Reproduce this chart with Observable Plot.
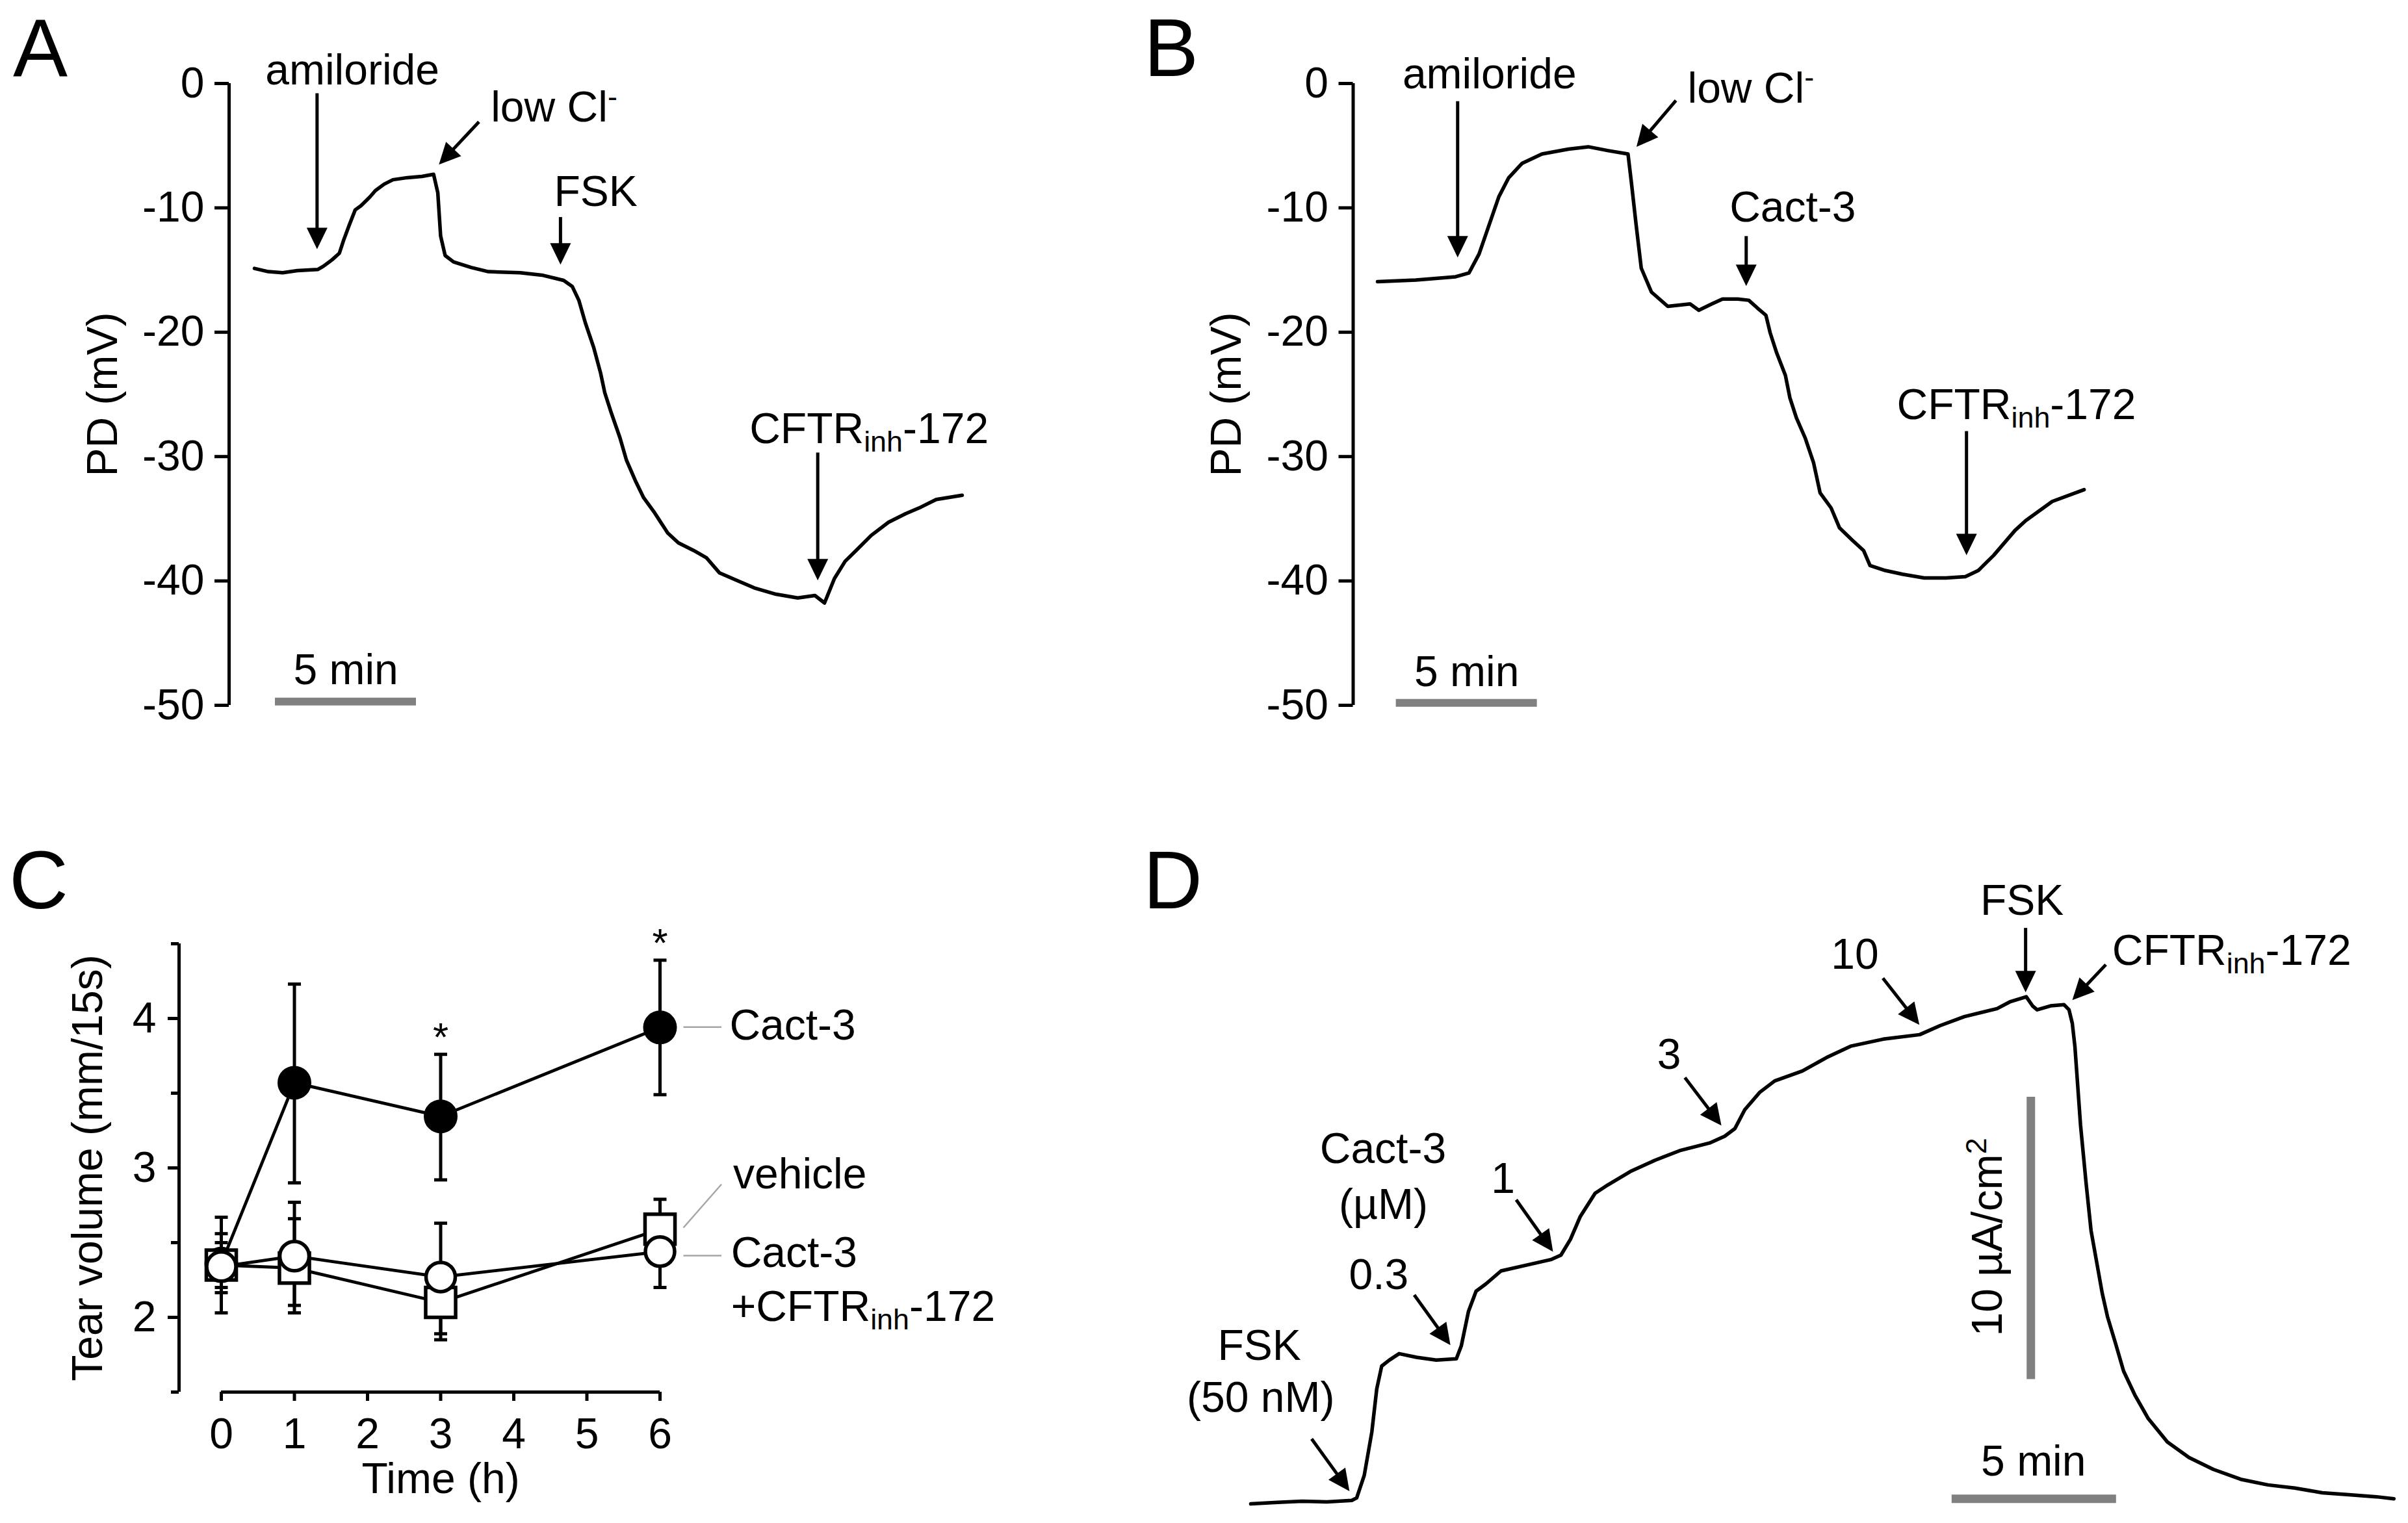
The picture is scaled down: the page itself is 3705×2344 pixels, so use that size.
<!DOCTYPE html>
<html>
<head>
<meta charset="utf-8">
<script src="https://cdn.jsdelivr.net/npm/d3@7"></script>
<script src="https://cdn.jsdelivr.net/npm/@observablehq/plot@0.6"></script>
<style>
  html, body { margin: 0; padding: 0; background: #fff; }
  #fig { position: relative; width: 3705px; height: 2344px; overflow: hidden; background: #fff;
         font-family: "Liberation Sans", Arial, Helvetica, sans-serif; }
  .letter { position: absolute; font-size: 126px; line-height: 1; color: #000; }
</style>
</head>
<body>
<div id="fig"></div>
<script>
// ---------------- DATA ----------------
// Panel A: transepithelial PD trace (time in min, PD in mV)
const aTime = [0, 0.49, 1.0, 1.52, 2.24, 2.44, 2.75, 3.01, 3.16, 3.36, 3.57, 3.78, 4.09, 4.29, 4.60, 4.91, 5.42, 5.94, 6.35, 6.50, 6.60, 6.76, 7.06, 7.68, 8.29, 9.42, 10.19, 10.96, 11.27, 11.50, 11.73, 12.03, 12.27, 12.42, 12.65, 12.96, 13.19, 13.50, 13.80, 14.19, 14.65, 15.03, 15.57, 16.03, 16.49, 17.10, 17.72, 18.49, 19.26, 19.87, 20.21, 20.56, 20.94, 21.33, 21.87, 22.48, 23.09, 23.63, 24.17, 24.63, 25.09];
const aPD = [-14.87, -15.13, -15.22, -15.05, -14.96, -14.70, -14.18, -13.65, -12.61, -11.39, -10.17, -9.82, -9.13, -8.61, -8.09, -7.74, -7.57, -7.47, -7.30, -8.78, -12.26, -13.83, -14.35, -14.79, -15.13, -15.22, -15.41, -15.83, -16.33, -17.43, -19.24, -21.25, -23.27, -24.87, -26.48, -28.50, -30.30, -31.92, -33.32, -34.53, -36.14, -36.94, -37.55, -38.15, -39.36, -39.96, -40.56, -41.07, -41.37, -41.17, -41.77, -39.81, -38.42, -37.55, -36.33, -35.28, -34.59, -34.06, -33.45, -33.28, -33.11];
const aLabels = ["amiloride", "low Cl^{-}", "FSK", "CFTR_{inh}-172"];
const aLabelT = [3.47, 8.38, 10.62, 17.55];
const aLabelV = [-0.1, -3.08, -9.86, -28.93];
const aLabelAnchor = ["middle", "start", "start", "start"];
const aArrowFrom = [[2.22, -0.78], [7.96, -3.08], [10.85, -10.74], [19.97, -29.68]];
const aArrowTo = [[2.22, -13.32], [6.54, -6.52], [10.85, -14.57], [19.97, -39.96]];
const aScaleBar = {t1: 0.737, t2: 5.737, v: -49.7, label: "5 min", labelT: 3.24, labelV: -48.3};

// Panel B
const bTime = [0, 1.36, 2.77, 3.24, 3.60, 3.95, 4.30, 4.65, 5.12, 5.83, 6.77, 7.47, 8.18, 8.88, 9.00, 9.17, 9.35, 9.71, 10.29, 11.08, 11.39, 11.85, 12.23, 12.77, 13.16, 13.46, 13.77, 13.92, 14.15, 14.46, 14.62, 14.85, 15.16, 15.46, 15.69, 16.08, 16.38, 16.84, 17.23, 17.46, 18.00, 18.61, 19.38, 20.15, 20.84, 21.30, 21.84, 22.60, 22.98, 23.92, 25.05];
const bPD = [-15.93, -15.81, -15.54, -15.24, -13.71, -11.41, -9.11, -7.58, -6.43, -5.67, -5.28, -5.09, -5.40, -5.67, -7.96, -11.41, -14.85, -16.77, -17.92, -17.73, -18.23, -17.73, -17.33, -17.33, -17.43, -18.04, -18.64, -20.05, -21.66, -23.47, -25.28, -26.89, -28.50, -30.51, -32.92, -34.13, -35.74, -36.74, -37.55, -38.76, -39.16, -39.46, -39.76, -39.76, -39.65, -39.16, -37.95, -35.94, -35.15, -33.61, -32.66];
const bLabels = ["amiloride", "low Cl^{-}", "Cact-3", "CFTR_{inh}-172"];
const bLabelT = [3.97, 10.99, 14.72, 18.41];
const bLabelV = [-0.40, -1.55, -11.12, -27.0];
const bLabelAnchor = ["middle", "start", "middle", "start"];
const bArrowFrom = [[2.84, -1.43], [10.58, -1.36], [13.07, -12.27], [20.88, -27.95]];
const bArrowTo = [[2.84, -13.99], [9.18, -5.10], [13.07, -16.29], [20.88, -37.93]];
const bScaleBar = {t1: 0.66, t2: 5.66, v: -49.8, label: "5 min", labelT: 3.16, labelV: -48.45};

// shared PD axis ticks
const pdTicks = [0, -10, -20, -30, -40, -50];

// Panel C: tear volume (mm/15s) vs time (h)
const cTimes = [0, 1, 3, 6];
const cCact3 = [2.36, 3.57, 3.345, 3.94];
const cCact3Lo = [2.03, 2.90, 2.92, 3.49];
const cCact3Hi = [2.67, 4.23, 3.76, 4.39];
const cVehicle = [2.35, 2.33, 2.10, 2.59];
const cVehicleLo = [2.165, 2.03, 1.85, 2.40];
const cVehicleHi = [2.56, 2.66, 2.33, 2.79];
const cInhib = [2.34, 2.41, 2.27, 2.44];
const cInhibLo = [2.20, 2.08, 1.89, 2.20];
const cInhibHi = [2.50, 2.77, 2.63, 2.66];
const cXTicks = [0, 1, 2, 3, 4, 5, 6];
const cYTicks = [2, 3, 4];
const cYMinorTicks = [1.5, 2.5, 3.5, 4.5];
const cStarT = [3, 6];
const cStarV = [3.785, 4.417];
const cLabels = ["Cact-3", "vehicle", "Cact-3", "+CFTR_{inh}-172"];
const cLabelT = [6.95, 7.0, 6.97, 6.97];
const cLabelV = [3.859, 2.863, 2.339, 1.975];
const cLeaderFrom = [[6.32, 3.942], [6.32, 2.60], [6.32, 2.413]];
const cLeaderTo = [[6.84, 3.942], [6.84, 2.89], [6.84, 2.413]];

// Panel D: short-circuit current (µA/cm², relative) vs time (min)
const dTime = [0, 0.81, 1.56, 2.31, 3.07, 3.22, 3.45, 3.68, 3.83, 3.98, 4.21, 4.51, 5.04, 5.64, 6.25, 6.40, 6.62, 6.85, 7.15, 7.61, 8.36, 9.12, 9.43, 9.72, 10.02, 10.47, 10.86, 11.54, 12.29, 13.04, 13.95, 14.41, 14.72, 15.02, 15.47, 15.93, 16.77, 17.51, 18.24, 19.23, 20.34, 20.96, 21.70, 22.69, 23.08, 23.58, 23.77, 23.91, 24.32, 24.73, 24.88, 24.98, 25.06, 25.23, 25.40, 25.55, 25.72, 25.89, 26.05, 26.30, 26.54, 26.88, 27.29, 27.87, 28.53, 29.27, 30.10, 30.93, 31.75, 32.58, 33.40, 34.23, 34.76];
const dIsc = [0, 0.05, 0.09, 0.07, 0.12, 0.21, 1.01, 2.54, 4.07, 4.88, 5.09, 5.32, 5.19, 5.09, 5.14, 5.59, 6.82, 7.53, 7.79, 8.25, 8.45, 8.65, 8.81, 9.37, 10.18, 11.0, 11.3, 11.77, 12.17, 12.51, 12.78, 13.02, 13.29, 13.96, 14.57, 14.98, 15.33, 15.81, 16.21, 16.46, 16.62, 16.94, 17.26, 17.54, 17.78, 17.96, 17.64, 17.50, 17.64, 17.68, 17.50, 17.02, 16.19, 13.42, 11.35, 9.68, 8.57, 7.46, 6.63, 5.66, 4.70, 3.86, 3.02, 2.19, 1.64, 1.22, 0.87, 0.67, 0.56, 0.39, 0.32, 0.25, 0.18];
const dLabels = ["FSK", "(50 nM)", "Cact-3", "(µM)", "0.3", "1", "3", "10", "FSK", "CFTR_{inh}-172"];
const dLabelT = [0.26, 0.30, 4.02, 4.03, 3.89, 7.67, 12.72, 18.37, 23.45, 26.19];
const dLabelV = [5.10, 3.25, 12.06, 10.1, 7.60, 11.02, 15.41, 18.95, 20.87, 19.1];
const dLabelAnchor = ["middle", "middle", "middle", "middle", "middle", "middle", "middle", "middle", "middle", "start"];
const dArrowFrom = [[1.85, 2.30], [4.97, 7.40], [8.07, 10.77], [13.2, 15.1], [19.22, 18.62], [23.56, 20.4], [26.0, 19.1]];
const dArrowTo = [[3.0, 0.45], [6.07, 5.62], [9.19, 8.93], [14.31, 13.4], [20.33, 16.97], [23.56, 18.12], [24.98, 17.84]];
const dVBar = {t: 23.72, i1: 4.41, i2: 14.41, label: "10 µA/cm^{2}", labelT: 22.42, labelI: 9.45};
const dHBar = {t1: 21.32, t2: 26.32, i: 0.18, label: "5 min", labelT: 23.8, labelI: 1.0};

const panelLetters = ["A", "B", "C", "D"];

// ---------------- HELPERS ----------------
const FS = 66;
const FONT = '"Liberation Sans", Arial, Helvetica, sans-serif';
const GRAY = "#808080";
const LW = 5.5;      // trace line width
const AXW = 5;       // axis line width
const fig = document.getElementById("fig");

const headSym = {draw(ctx) { ctx.moveTo(0, 0); ctx.lineTo(-16, -33); ctx.lineTo(16, -33); ctx.closePath(); }};
const capSym = {draw(ctx) { ctx.moveTo(-10, 0); ctx.lineTo(10, 0); }};

function arrowMarks(from, to, kx, ky) {
  const rows = from.map((f, i) => {
    const [x1, y1] = f, [x2, y2] = to[i];
    const dx = (x2 - x1) * kx, dy = -(y2 - y1) * ky;
    const L = Math.hypot(dx, dy), ux = dx / L, uy = dy / L;
    return {x1, y1, x2, y2, xe: x2 - ux * 18 / kx, ye: y2 + uy * 18 / ky, ang: Math.atan2(-ux, uy) * 180 / Math.PI};
  });
  return [
    Plot.link(rows, {x1: "x1", y1: "y1", x2: "xe", y2: "ye", stroke: "black", strokeWidth: 5}),
    Plot.dot(rows, {x: "x2", y: "y2", symbol: headSym, rotate: "ang", fill: "black", stroke: "none", r: 10})
  ];
}

function labelMarks(labels, ts, vs, anchors) {
  const rows = labels.map((l, i) => ({l, t: ts[i], v: vs[i], a: anchors ? anchors[i] : "start"}));
  return ["start", "middle", "end"].map(a => Plot.text(rows.filter(r => r.a === a), {
    x: "t", y: "v", text: "l", textAnchor: a, lineAnchor: "bottom", fontSize: FS, fill: "black"
  }));
}

function richText(svg) {
  const ns = "http://www.w3.org/2000/svg";
  svg.querySelectorAll("text").forEach(el => {
    if (el.querySelector("tspan")) return;
    const s = el.textContent;
    if (!/[_^]\{/.test(s)) return;
    el.textContent = "";
    const re = /([_^])\{([^}]*)\}/g;
    let last = 0, m, pending = 0;
    const add = (str, attrs) => {
      const ts = document.createElementNS(ns, "tspan");
      ts.textContent = str;
      for (const k in attrs) ts.setAttribute(k, attrs[k]);
      el.appendChild(ts);
    };
    while ((m = re.exec(s))) {
      if (m.index > last) { add(s.slice(last, m.index), pending ? {dy: pending} : {}); pending = 0; }
      const shift = m[1] === "_" ? 0.2 * FS : -0.36 * FS;
      add(m[2], {dy: shift + pending, "font-size": 0.68 * FS});
      pending = -shift;
      last = re.lastIndex;
    }
    if (last < s.length) add(s.slice(last), pending ? {dy: pending} : {});
  });
}

function place(svg, left, top) {
  svg.style.position = "absolute";
  svg.style.left = left + "px";
  svg.style.top = top + "px";
  svg.style.maxWidth = "none";
  fig.appendChild(svg);
  richText(svg);
}

const baseStyle = {fontFamily: FONT, fontSize: FS + "px", background: "transparent", color: "black"};

// ---------------- PANELS A & B (PD traces) ----------------
function pdPanel(cfg, time, pd, labels, lt, lv, la, from, to, bar) {
  const {ox, oy, W, H, axisPx, t0Px, kx, y0Px, ky} = cfg;
  const xDom = [(axisPx - t0Px) / kx, (ox + W - t0Px) / kx];
  const marginTop = y0Px - oy;
  const marginBottom = H - (y0Px + 50 * ky - oy);
  const trace = time.map((t, i) => ({t, v: pd[i]}));
  const svg = Plot.plot({
    width: W, height: H,
    marginLeft: axisPx - ox, marginRight: 0, marginTop, marginBottom,
    style: baseStyle,
    x: {domain: xDom, axis: null},
    y: {domain: [-50, 0]},
    marks: [
      Plot.ruleX([xDom[0]], {y1: -50, y2: 0, stroke: "black", strokeWidth: AXW}),
      Plot.axisY({ticks: pdTicks, tickSize: 22, tickPadding: 16, tickFormat: d => String(d), fontSize: FS, strokeWidth: AXW, label: null}),
      Plot.text(["PD (mV)"], {text: d => d, frameAnchor: "left", dx: -194, rotate: -90, textAnchor: "middle", lineAnchor: "middle", fontSize: FS}),
      Plot.line(trace, {x: "t", y: "v", stroke: "black", strokeWidth: LW, strokeLinejoin: "round"}),
      ...arrowMarks(from, to, kx, ky),
      ...labelMarks(labels, lt, lv, la),
      Plot.ruleY([bar.v], {x1: bar.t1, x2: bar.t2, stroke: GRAY, strokeWidth: 12}),
      Plot.text([bar.label], {text: d => d, x: bar.labelT, y: bar.labelV, textAnchor: "middle", lineAnchor: "bottom", fontSize: FS})
    ]
  });
  place(svg, ox, oy);
}

pdPanel({ox: 0, oy: 0, W: 1760, H: 1180, axisPx: 352, t0Px: 391, kx: 43.4, y0Px: 128, ky: 19.14},
  aTime, aPD, aLabels, aLabelT, aLabelV, aLabelAnchor, aArrowFrom, aArrowTo, aScaleBar);
pdPanel({ox: 1760, oy: 0, W: 1945, H: 1180, axisPx: 2081.5, t0Px: 2119, kx: 43.4, y0Px: 128, ky: 19.14},
  bTime, bPD, bLabels, bLabelT, bLabelV, bLabelAnchor, bArrowFrom, bArrowTo, bScaleBar);

// ---------------- PANEL C ----------------
(function () {
  const ox = 0, oy = 1180, W = 1760, H = 1164;
  const axisPx = 275, t0Px = 340, kx = 112.5, yTop = 1452, yBot = 2142;
  const xDom = [(axisPx - t0Px) / kx, (ox + W - t0Px) / kx];
  const mk = (name, m, lo, hi) => cTimes.map((t, i) => ({name, t, m: m[i], lo: lo[i], hi: hi[i]}));
  const cact = mk("Cact-3", cCact3, cCact3Lo, cCact3Hi);
  const veh = mk("vehicle", cVehicle, cVehicleLo, cVehicleHi);
  const inh = mk("Cact-3 + CFTRinh-172", cInhib, cInhibLo, cInhibHi);
  const all = [...cact, ...veh, ...inh];
  const caps = all.flatMap(d => [{t: d.t, v: d.lo}, {t: d.t, v: d.hi}]);
  const leaders = cLeaderFrom.map((f, i) => ({x1: f[0], y1: f[1], x2: cLeaderTo[i][0], y2: cLeaderTo[i][1]}));
  const stars = cStarT.map((t, i) => ({t, v: cStarV[i]}));
  const svg = Plot.plot({
    width: W, height: H,
    marginLeft: axisPx - ox, marginRight: 0, marginTop: yTop - oy, marginBottom: oy + H - yBot,
    style: baseStyle,
    x: {domain: xDom},
    y: {domain: [1.5, 4.5]},
    marks: [
      Plot.ruleX([xDom[0]], {y1: 1.5, y2: 4.5, stroke: "black", strokeWidth: AXW}),
      Plot.axisY({ticks: cYTicks, tickSize: 17, tickPadding: 18, tickFormat: d => String(d), fontSize: FS, strokeWidth: AXW, label: null}),
      Plot.axisY({ticks: cYMinorTicks, tickSize: 12, tickFormat: () => null, strokeWidth: AXW, label: null}),
      Plot.ruleY([1.5], {x1: 0, x2: 6, stroke: "black", strokeWidth: AXW}),
      Plot.axisX({ticks: cXTicks, tickSize: 14, tickPadding: 26, tickFormat: d => String(d), fontSize: FS, strokeWidth: AXW, label: null}),
      Plot.text(["Tear volume (mm/15s)"], {text: d => d, frameAnchor: "left", dx: -140, rotate: -90, textAnchor: "middle", lineAnchor: "middle", fontSize: FS}),
      Plot.text(["Time (h)"], {text: d => d, x: 3, frameAnchor: "bottom", dy: 155, textAnchor: "middle", lineAnchor: "bottom", fontSize: FS}),
      Plot.ruleX(all, {x: "t", y1: "lo", y2: "hi", stroke: "black", strokeWidth: 5}),
      Plot.dot(caps, {x: "t", y: "v", symbol: capSym, stroke: "black", strokeWidth: 5, fill: "none", r: 5}),
      Plot.line(cact, {x: "t", y: "m", stroke: "black", strokeWidth: 4.8}),
      Plot.line(veh, {x: "t", y: "m", stroke: "black", strokeWidth: 4.8}),
      Plot.line(inh, {x: "t", y: "m", stroke: "black", strokeWidth: 4.8}),
      Plot.dot(cact, {x: "t", y: "m", symbol: "circle", r: 25, fill: "black", stroke: "black", strokeWidth: 2}),
      Plot.dot(veh, {x: "t", y: "m", symbol: "square", r: 26, fill: "white", stroke: "black", strokeWidth: 5.5}),
      Plot.dot(inh, {x: "t", y: "m", symbol: "circle", r: 22.5, fill: "white", stroke: "black", strokeWidth: 5.5}),
      Plot.link(leaders, {x1: "x1", y1: "y1", x2: "x2", y2: "y2", stroke: "#a6a6a6", strokeWidth: 2.5}),
      ...labelMarks(cLabels, cLabelT, cLabelV, null),
      Plot.text(stars, {x: "t", y: "v", text: () => "*", textAnchor: "middle", lineAnchor: "bottom", fontSize: 62})
    ]
  });
  place(svg, ox, oy);
})();

// ---------------- PANEL D ----------------
(function () {
  const ox = 1760, oy = 1180, W = 1945, H = 1164;
  const t0Px = 1924, kx = 50.6, i0Px = 2314, ky = 43.45;
  const xDom = [0, (ox + W - t0Px) / kx];
  const yDom = [0, (i0Px - oy) / ky];
  const trace = dTime.map((t, i) => ({t, v: dIsc[i]}));
  const svg = Plot.plot({
    width: W, height: H,
    marginLeft: t0Px - ox, marginRight: 0, marginTop: 0, marginBottom: oy + H - i0Px,
    style: baseStyle,
    x: {domain: xDom, axis: null},
    y: {domain: yDom, axis: null},
    marks: [
      Plot.line(trace, {x: "t", y: "v", stroke: "black", strokeWidth: LW, strokeLinejoin: "round"}),
      ...arrowMarks(dArrowFrom, dArrowTo, kx, ky),
      ...labelMarks(dLabels, dLabelT, dLabelV, dLabelAnchor),
      Plot.ruleX([dVBar.t], {y1: dVBar.i1, y2: dVBar.i2, stroke: GRAY, strokeWidth: 13}),
      Plot.text([dVBar.label], {text: d => d, x: dVBar.labelT, y: dVBar.labelI, rotate: -90, textAnchor: "middle", lineAnchor: "middle", fontSize: FS}),
      Plot.ruleY([dHBar.i], {x1: dHBar.t1, x2: dHBar.t2, stroke: GRAY, strokeWidth: 13}),
      Plot.text([dHBar.label], {text: d => d, x: dHBar.labelT, y: dHBar.labelI, textAnchor: "middle", lineAnchor: "bottom", fontSize: FS})
    ]
  });
  place(svg, ox, oy);
})();

// ---------------- PANEL LETTERS ----------------
const letterPos = [[20, 11], [1760, 11], [14, 1292], [1759, 1292]];
panelLetters.forEach((L, i) => {
  const d = document.createElement("div");
  d.className = "letter";
  d.textContent = L;
  d.style.left = letterPos[i][0] + "px";
  d.style.top = letterPos[i][1] + "px";
  fig.appendChild(d);
});
</script>
</body>
</html>
